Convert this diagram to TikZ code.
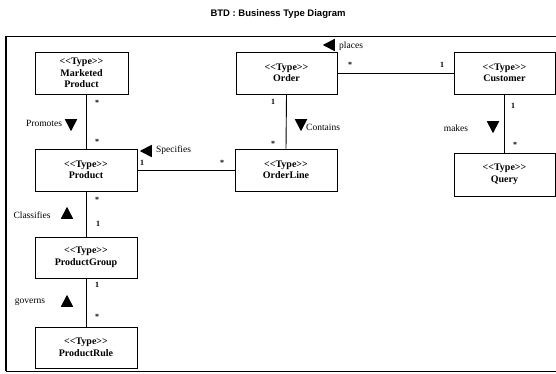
\documentclass[tikz,border=0pt]{standalone}
\usepackage{fontspec}
\setmainfont{Liberation Serif}
\newfontfamily\titlefont{Liberation Sans}
\usetikzlibrary{shapes.geometric}
\tikzset{
  typebox/.style={draw=black, line width=0.9pt, minimum width=102pt, minimum height=42pt,
    inner sep=0pt, align=center, font=\fontsize{10}{11.5}\selectfont\bfseries},
  mult/.style={font=\fontsize{8}{9}\selectfont\bfseries, inner sep=0pt},
  rolelabel/.style={font=\fontsize{9.5}{10}\selectfont, inner sep=0pt},
  tri/.style={isosceles triangle, isosceles triangle apex angle=55, fill=black, draw=none,
    inner sep=0pt, minimum height=12pt, minimum width=10pt},
  tridown/.style={tri, shape border rotate=-90},
  triup/.style={tri, shape border rotate=90},
  trileft/.style={tri, shape border rotate=180},
  conn/.style={draw=black, line width=0.9pt}
}
\newcommand{\stype}{<\kern0pt<Type>\kern0pt>}
\begin{document}
\begin{tikzpicture}[x=1pt,y=-1pt]
\useasboundingbox (0,0) rectangle (556,374);
\fill[white] (0,0) rectangle (556,374);
% title
\node[font=\titlefont\fontsize{9.5}{11}\selectfont\bfseries] (title) at (278,14) {BTD : Business Type Diagram};
% frame
\draw[line width=0.9pt] (6,36) rectangle (562,371);
\draw[line width=1.6pt] (6,36) -- (6,371);
% boxes
\node[typebox, minimum width=93pt] (mp) at (81.5,73) {\stype\\Marketed\\Product};
\node[typebox] (prod) at (86,170) {\stype\\Product};
\node[typebox, minimum height=41pt] (pg) at (86,257.5) {\stype\\ProductGroup};
\node[typebox, minimum height=41pt] (pr) at (86,347.5) {\stype\\ProductRule};
\node[typebox, minimum width=101pt] (order) at (286.5,73) {\stype\\Order};
\node[typebox] (ol) at (286,170) {\stype\\OrderLine};
\node[typebox, minimum width=101pt] (cust) at (504.5,73) {\stype\\Customer};
\node[typebox, minimum width=101pt, minimum height=43pt] (query) at (504.5,174.5) {\stype\\Query};
% connectors
\draw[conn] (prod.north) -- (prod.north |- mp.south);
\draw[conn] (prod.south) -- (pg.north);
\draw[conn] (pg.south) -- (pr.north);
\draw[conn] (prod.east) -- (ol.west);
\draw[conn] (order.south) -- (ol.north);
\draw[conn] (order.east) -- (cust.west);
\draw[conn] (cust.south) -- (query.north);
% multiplicities
\node[mult] (m1) at (97,103) {*};
\node[mult] (m2) at (97,142) {*};
\node[mult] (m3) at (142,163) {1};
\node[mult] (m4) at (222,163) {*};
\node[mult] (m5) at (273,102) {1};
\node[mult] (m6) at (273,144) {*};
\node[mult] (m7) at (350,65) {*};
\node[mult] (m8) at (442,65) {1};
\node[mult] (m9) at (513,106) {1};
\node[mult] (m10) at (515,145) {*};
\node[mult] (m11) at (97,200) {*};
\node[mult] (m12) at (98,224) {1};
\node[mult] (m13) at (97,285) {1};
\node[mult] (m14) at (97,317) {*};
% role labels
\node[rolelabel] (lprom) at (44,123) {Promotes};
\node[tridown] (tprom) at (71,123) {};
\node[trileft] (tspec) at (148,151) {};
\node[rolelabel, anchor=west] (lspec) at (156,150) {Specifies};
\node[tridown] (tcont) at (301,123) {};
\node[rolelabel, anchor=west] (lcont) at (306,127) {Contains};
\node[rolelabel] (lmake) at (456,128) {makes};
\node[tridown] (tmake) at (493,125) {};
\node[rolelabel] (lclass) at (32,215) {Classifies};
\node[triup] (tclass) at (67,215) {};
\node[rolelabel] (lgov) at (30,302) {governs};
\node[triup] (tgov) at (67,303) {};
\node[trileft] (tplace) at (331,45) {};
\node[rolelabel, anchor=west] (lplace) at (339,46) {places};
\end{tikzpicture}
\end{document}
